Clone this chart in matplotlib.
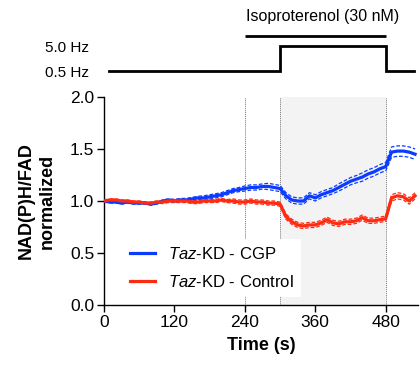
import numpy as np
import matplotlib.pyplot as plt

plt.rcParams['font.family'] = ['Liberation Sans', 'DejaVu Sans']
plt.rcParams['mathtext.fontset'] = 'custom'
plt.rcParams['mathtext.it'] = 'Liberation Sans:italic'
plt.rcParams['mathtext.rm'] = 'Liberation Sans'

# time axis (s)
tempo = [0, 10, 20, 30, 40, 50, 60, 70, 80, 90, 100, 110, 120, 130, 140, 150, 160, 170,
         180, 190, 200, 210, 220, 230, 240, 250, 260, 270, 280, 290, 300, 310, 320, 330,
         340, 350, 360, 370, 380, 390, 400, 410, 420, 430, 440, 450, 460, 470, 480, 490,
         500, 510, 520, 530]

cgp_media = [1.00, 0.99, 0.99, 0.98, 0.99, 0.98, 0.98, 0.98, 0.97, 0.98, 1.00, 1.01, 1.00,
             1.01, 1.01, 1.02, 1.03, 1.03, 1.04, 1.05, 1.06, 1.08, 1.10, 1.11, 1.12, 1.13,
             1.13, 1.14, 1.14, 1.13, 1.12, 1.05, 1.01, 1.00, 1.00, 1.05, 1.03, 1.06, 1.08,
             1.10, 1.13, 1.16, 1.19, 1.21, 1.23, 1.26, 1.28, 1.31, 1.33, 1.47, 1.48, 1.48,
             1.47, 1.45]
cgp_sem = [0.01, 0.01, 0.01, 0.01, 0.01, 0.01, 0.01, 0.01, 0.01, 0.01, 0.01, 0.01, 0.015,
           0.015, 0.015, 0.015, 0.015, 0.02, 0.02, 0.02, 0.02, 0.02, 0.02, 0.02, 0.025, 0.025,
           0.025, 0.025, 0.03, 0.03, 0.03, 0.03, 0.03, 0.03, 0.03, 0.03, 0.03, 0.03, 0.03,
           0.03, 0.035, 0.035, 0.035, 0.035, 0.04, 0.04, 0.04, 0.04, 0.04, 0.05, 0.05, 0.05,
           0.05, 0.05]

ctrl_media = [1.00, 1.01, 1.01, 1.00, 1.00, 0.99, 0.99, 0.98, 0.98, 0.99, 0.99, 1.00, 1.00,
              1.00, 1.00, 0.99, 0.99, 1.00, 1.00, 1.00, 1.01, 1.00, 1.00, 0.99, 0.99, 1.00,
              0.99, 0.99, 0.98, 0.98, 0.97, 0.85, 0.80, 0.77, 0.76, 0.77, 0.77, 0.79, 0.82,
              0.79, 0.78, 0.80, 0.80, 0.81, 0.84, 0.81, 0.81, 0.82, 0.83, 1.03, 1.05, 1.04,
              1.00, 1.05]
ctrl_sem = [0.01, 0.01, 0.01, 0.01, 0.01, 0.01, 0.01, 0.01, 0.01, 0.01, 0.015, 0.015, 0.015,
            0.015, 0.015, 0.015, 0.015, 0.015, 0.015, 0.015, 0.015, 0.015, 0.02, 0.02, 0.02,
            0.02, 0.02, 0.02, 0.02, 0.02, 0.02, 0.025, 0.025, 0.025, 0.025, 0.025, 0.025,
            0.025, 0.025, 0.025, 0.025, 0.025, 0.025, 0.025, 0.025, 0.025, 0.025, 0.025,
            0.025, 0.03, 0.03, 0.03, 0.03, 0.03]

# stimulation protocol
estim_t = [8, 300, 300, 480, 480, 528]
estim_hz = [0.5, 0.5, 5.0, 5.0, 0.5, 0.5]
iso_inicio, iso_fim = 240, 480

azul = '#0b3bff'
vermelho = '#ff2a12'

fig = plt.figure(figsize=(4.2, 3.66), dpi=100)
ax = fig.add_axes([104 / 420, 1 - 305 / 366, 314 / 420, 208 / 366])
ax_top = fig.add_axes([104 / 420, 1 - 90 / 366, 314 / 420, 90 / 366], sharex=ax)

t = np.array(tempo)
ax.axvspan(300, 480, color='#f3f3f3', lw=0, zorder=0)
for xv in [240, 300, 480]:
    ax.axvline(xv, color='#777777', lw=0.7, ls=(0, (1, 1)), zorder=1)

for media, sem, cor, rotulo in [(cgp_media, cgp_sem, azul, r'$\it{Taz}$-KD - CGP'),
                                (ctrl_media, ctrl_sem, vermelho, r'$\it{Taz}$-KD - Control')]:
    m = np.array(media)
    s = np.array(sem)
    ax.plot(t, m + s, color=cor, lw=0.9, ls=(0, (3, 1.5)), zorder=2)
    ax.plot(t, m - s, color=cor, lw=0.9, ls=(0, (3, 1.5)), zorder=2)
    ax.plot(t, m, color=cor, lw=2.3, zorder=3, label=rotulo)

ax.set_xlim(0, 535)
ax.set_ylim(0, 2.0)
ax.set_xticks([0, 120, 240, 360, 480])
ax.set_yticks([0.0, 0.5, 1.0, 1.5, 2.0])
ax.set_yticklabels(['0.0', '0.5', '1.0', '1.5', '2.0'])
for lado in ['top', 'right']:
    ax.spines[lado].set_visible(False)
for lado in ['left', 'bottom']:
    ax.spines[lado].set_linewidth(1.0)
ax.tick_params(direction='out', length=5, width=1.0, labelsize=12.5, pad=2)
ax.set_xlabel('Time (s)', fontsize=13, fontweight='bold', labelpad=5)
ax.set_ylabel('NAD(P)H/FAD\nnormalized', fontsize=13, fontweight='bold', labelpad=10,
              linespacing=1.35)

leg = ax.legend(loc='lower left', bbox_to_anchor=(0.062, 0.04), frameon=True, fontsize=12,
                handlelength=1.5, handletextpad=0.8, labelspacing=0.75, borderaxespad=0.0,
                borderpad=0.4)
leg.get_frame().set_facecolor('white')
leg.get_frame().set_edgecolor('none')
leg.get_frame().set_alpha(1.0)
leg.get_frame().set_boxstyle('square', pad=0)

# top panel: pacing and drug
ax_top.plot(estim_t, estim_hz, color='black', lw=2.0, solid_joinstyle='miter')
ax_top.plot([iso_inicio, iso_fim], [6.8, 6.8], color='black', lw=2.0, solid_capstyle='butt')
ax_top.text((iso_inicio + iso_fim) / 2 + 12, 9.0, 'Isoproterenol (30 nM)', ha='center',
            va='bottom', fontsize=11.5)
ax_top.set_ylim(-2.9, 13.3)
ax_top.set_yticks([0.5, 5.0])
ax_top.set_yticklabels(['0.5 Hz', '5.0 Hz'])
ax_top.tick_params(axis='y', length=0, labelsize=11, pad=11)
ax_top.tick_params(axis='x', bottom=False, labelbottom=False)
for lado in ax_top.spines.values():
    lado.set_visible(False)
ax_top.patch.set_visible(False)

fig.savefig('out.png', dpi=100)
